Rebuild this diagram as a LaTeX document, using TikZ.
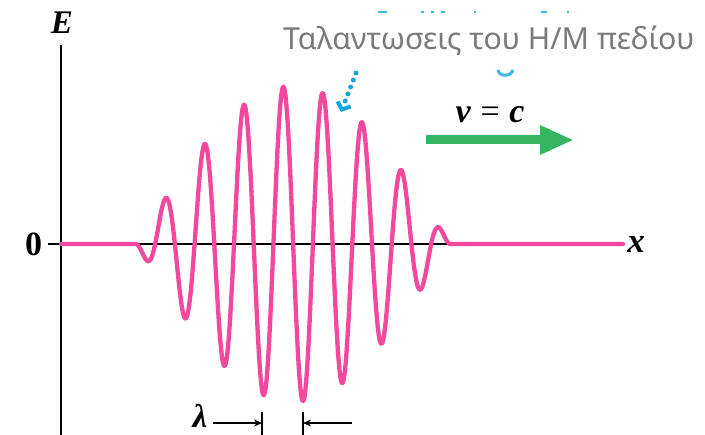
\documentclass[tikz,border=0pt]{standalone}
\usepackage{fontspec}
\usetikzlibrary{arrows.meta}
\newfontfamily\greekfont{Noto Sans}
\newfontfamily\lblfont{Liberation Serif}
\definecolor{wavepink}{RGB}{242,72,158}
\definecolor{arrowgreen}{RGB}{52,181,95}
\definecolor{dotcyan}{RGB}{22,165,215}
\definecolor{fragcyan}{RGB}{60,185,230}
\definecolor{labelgray}{RGB}{122,122,122}
\begin{document}
\begin{tikzpicture}[x=1pt,y=-1pt,
  axis/.style={line width=2.2pt, black},
  wave/.style={line width=4.3pt, wavepink, line join=round, line cap=round},
  lbl/.style={inner sep=0pt, anchor=base},
  dimline/.style={line width=1.4pt, black},
  dimarrow/.style={dimline, -{Stealth[length=8pt,width=7pt]}},
  frag/.style={fragcyan, line width=1.6pt},
  ]
\useasboundingbox (0,0) rectangle (705,435);
\fill[white] (0,0) rectangle (705,435);

% remnants of covered cyan caption
\draw[frag] (378,12) -- (387,12);
\draw[frag] (421,12) -- (424,12);
\draw[frag] (431,12) -- (434,12);
\draw[frag] (441,12) -- (445,12);
\draw[frag] (474,12) -- (476,12);
\draw[frag] (541,12) -- (547,12);
\draw[frag] (567,12) -- (569,12);
\draw[fragcyan, line width=3pt] (498,70) .. controls (499,77) and (511,77) .. (513,70);

% white label box with Greek caption
\fill[white] (266,16) rectangle (702,69);
\node[inner sep=0pt, anchor=base west, text=labelgray,
      font=\greekfont\fontsize{30.3}{33}\selectfont] (title) at (283,50)
      {Ταλαντωσεις του Η/Μ πεδίου};

% axes
\coordinate (yb) at (61,436);
\coordinate (yt) at (61,45);
\draw[axis] (yb) -- (yt);
\coordinate (o) at (61,244);
\coordinate (tk) at (48,244);
\draw[axis] (tk) -- (o);
\coordinate (xa) at (128,244);
\coordinate (xb) at (456,244);
\draw[line width=2pt, black] (xa) -- (xb);

% wave packet
\coordinate (ws) at (136,244);
\coordinate (xe) at (623,244);
\draw[wave] (o) -- (ws) -- plot[domain=136:450, samples=500, smooth]
  (\x, {244 - 158*cos((90/157)*(\x-293))*cos((360/39.43)*(\x-283.3))}) -- (xe);

% labels
\node[lbl, font=\lblfont\bfseries\itshape\fontsize{33}{35}\selectfont] (E) at (62,34) {E};
\node[lbl, font=\lblfont\bfseries\fontsize{34}{36}\selectfont] (zero) at (33.5,256) {0};
\node[lbl, font=\lblfont\bfseries\itshape\fontsize{35}{37}\selectfont] (xl) at (636,253) {x};
\node[lbl, font=\lblfont\bfseries\fontsize{34}{36}\selectfont] (vc) at (490,123)
  {{\itshape v}\hspace{0.28em}\textmd{=}\hspace{0.28em}{\itshape c}};

% velocity arrow
\coordinate (g1) at (426,140);
\coordinate (g2) at (574,140);
\draw[arrowgreen, line width=9pt, -{Triangle[length=34pt,width=27pt]}] (g1) -- (g2);

% dotted pointer
\coordinate (c1) at (356,73);
\coordinate (c2) at (341,112);
\draw[dotcyan, line width=5pt, line cap=round, dash pattern=on 0pt off 7.5pt,
  -{Straight Barb[length=6pt,width=14pt,line width=4pt]}] (c1) -- (c2);

% wavelength marker
\node[lbl, font=\lblfont\bfseries\itshape\fontsize{33}{35}\selectfont] (lam) at (200,428) {λ};
\coordinate (d0) at (213,423);
\coordinate (d1) at (262,423);
\coordinate (d1t) at (262,412);
\coordinate (d1b) at (262,436);
\coordinate (d2) at (303,423);
\coordinate (d2t) at (303,412);
\coordinate (d2b) at (303,436);
\coordinate (d3) at (352,423);
\draw[dimline] (d1t) -- (d1b);
\draw[dimline] (d2t) -- (d2b);
\draw[dimarrow] (d0) -- (d1);
\draw[dimarrow] (d3) -- (d2);
\end{tikzpicture}
\end{document}
